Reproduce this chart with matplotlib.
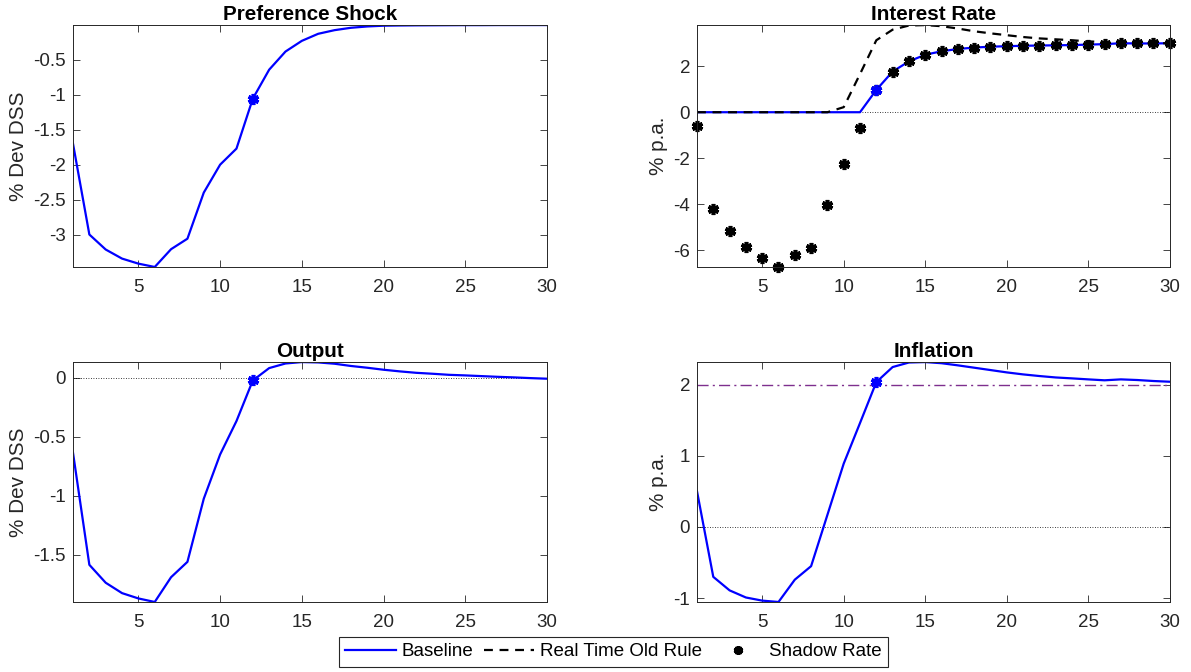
import numpy as np
import matplotlib
matplotlib.use("Agg")
import matplotlib.pyplot as plt
from matplotlib.ticker import MultipleLocator, FuncFormatter

plt.rcParams['font.family'] = ['Liberation Sans', 'DejaVu Sans']
plt.rcParams['axes.unicode_minus'] = False

# quarters after the shock
periods = np.arange(1, 31)

pref_shock = [-1.70, -3.00, -3.215, -3.345, -3.417, -3.465, -3.21, -3.06, -2.40, -2.00,
              -1.77, -1.055, -0.64, -0.38, -0.227, -0.126, -0.074, -0.040, -0.021, -0.010,
              -0.007, -0.005, -0.004, -0.003, -0.002, -0.002, -0.001, -0.001, -0.001, -0.001]

output = [-0.636, -1.585, -1.737, -1.825, -1.870, -1.900, -1.690, -1.560, -1.025, -0.650,
          -0.367, -0.023, 0.082, 0.121, 0.133, 0.130, 0.119, 0.100, 0.085, 0.068,
          0.054, 0.042, 0.034, 0.025, 0.020, 0.014, 0.008, 0.003, -0.003, -0.008]

shadow_rate = [-0.61, -4.22, -5.18, -5.86, -6.36, -6.73, -6.21, -5.92, -4.04, -2.23,
               -0.70, 0.97, 1.77, 2.21, 2.50, 2.65, 2.75, 2.81, 2.85, 2.87,
               2.89, 2.90, 2.91, 2.92, 2.94, 2.96, 3.00, 2.99, 2.99, 3.00]

baseline_rate = [0.0, 0.0, 0.0, 0.0, 0.0, 0.0, 0.0, 0.0, 0.0, 0.0,
                 0.0, 0.97, 1.77, 2.21, 2.50, 2.65, 2.75, 2.81, 2.85, 2.87,
                 2.89, 2.90, 2.91, 2.92, 2.94, 2.96, 3.00, 2.99, 2.99, 3.00]

old_rule_rate = [0.0, 0.0, 0.0, 0.0, 0.0, 0.0, 0.0, 0.0, 0.0, 0.22,
                 1.66, 3.13, 3.59, 3.77, 3.79, 3.74, 3.64, 3.52, 3.43, 3.35,
                 3.27, 3.21, 3.17, 3.13, 3.08, 3.05, 3.03, 3.01, 3.00, 3.00]

inflation = [0.505, -0.70, -0.89, -0.99, -1.034, -1.053, -0.74, -0.55, 0.17, 0.89,
             1.46, 2.035, 2.246, 2.31, 2.316, 2.30, 2.27, 2.237, 2.204, 2.171,
             2.143, 2.12, 2.10, 2.087, 2.073, 2.06, 2.073, 2.064, 2.05, 2.04]

inflation_target = 2.0
liftoff = 12  # period marked with a star

BLUE = '#0000ff'
PURPLE = '#7e2f8e'
GREY = '#262626'
FS = 13.5

fig = plt.figure(figsize=(11.91, 6.72), dpi=100)

ax_pref = fig.add_axes([0.0613, 0.6027, 0.398, 0.360])
ax_rate = fig.add_axes([0.5852, 0.6027, 0.397, 0.360])
ax_out = fig.add_axes([0.0613, 0.1042, 0.398, 0.357])
ax_inf = fig.add_axes([0.5852, 0.1042, 0.397, 0.357])

star = dict(marker=(6, 2, 0), markersize=8, markeredgewidth=2.6, linestyle='none')
k = liftoff - 1


def style(ax, title, ylabel, step):
    ax.set_xlim(1, 30)
    ax.xaxis.set_major_locator(MultipleLocator(5))
    ax.yaxis.set_major_locator(MultipleLocator(step))
    ax.yaxis.set_major_formatter(FuncFormatter(lambda v, p: f'{v:g}'))
    ax.tick_params(direction='in', top=True, right=True, length=5, width=0.6,
                   labelsize=FS, colors=GREY, pad=5)
    ax.tick_params(axis='x', pad=9)
    for s in ax.spines.values():
        s.set_color(GREY)
        s.set_linewidth(0.7)
    ax.set_title(title, fontsize=FS * 1.1, fontweight='bold', pad=4)
    ax.set_ylabel(ylabel, fontsize=FS * 1.1, color=GREY, labelpad=4)


# Preference shock
ax_pref.plot(periods, pref_shock, color=BLUE, lw=1.6)
ax_pref.plot(periods[k], pref_shock[k], color=BLUE, **star)
ax_pref.set_ylim(min(pref_shock), max(pref_shock))
style(ax_pref, 'Preference Shock', '% Dev DSS', 0.5)

# Interest rate
ax_rate.axhline(0, color='k', lw=0.6, ls=(0, (1, 2)))
h_base, = ax_rate.plot(periods, baseline_rate, color=BLUE, lw=1.6, label='Baseline')
h_old, = ax_rate.plot(periods, old_rule_rate, color='k', lw=1.6, ls=(0, (4, 3)),
                      label='Real Time Old Rule')
h_shadow, = ax_rate.plot(periods, shadow_rate, color='k', label='Shadow Rate', **star)
ax_rate.plot(periods[k], baseline_rate[k], color=BLUE, **star)
h_shadow.set_clip_on(False)
ax_rate.set_ylim(min(shadow_rate), max(old_rule_rate))
style(ax_rate, 'Interest Rate', '% p.a.', 2)

# Output
ax_out.axhline(0, color='k', lw=0.6, ls=(0, (1, 2)))
ax_out.plot(periods, output, color=BLUE, lw=1.6)
ax_out.plot(periods[k], output[k], color=BLUE, **star)
ax_out.set_ylim(min(output), max(output))
style(ax_out, 'Output', '% Dev DSS', 0.5)

# Inflation
ax_inf.axhline(0, color='k', lw=0.6, ls=(0, (1, 2)))
ax_inf.axhline(inflation_target, color=PURPLE, lw=1.0, ls=(0, (8, 3, 1.5, 3)))
ax_inf.plot(periods, inflation, color=BLUE, lw=1.6)
ax_inf.plot(periods[k], inflation[k], color=BLUE, **star)
ax_inf.set_ylim(min(inflation), max(inflation))
style(ax_inf, 'Inflation', '% p.a.', 1)

leg = fig.legend(handles=[h_base, h_old, h_shadow], loc='center',
                 bbox_to_anchor=(0.515, 0.030), ncol=3, fontsize=FS,
                 frameon=True, fancybox=False, framealpha=1, edgecolor=GREY,
                 handlelength=2.7, handletextpad=0.3, columnspacing=0.55,
                 borderpad=0.35, borderaxespad=0, markerscale=0.8)
leg.get_frame().set_linewidth(0.8)

fig.savefig('out.png', dpi=100)
